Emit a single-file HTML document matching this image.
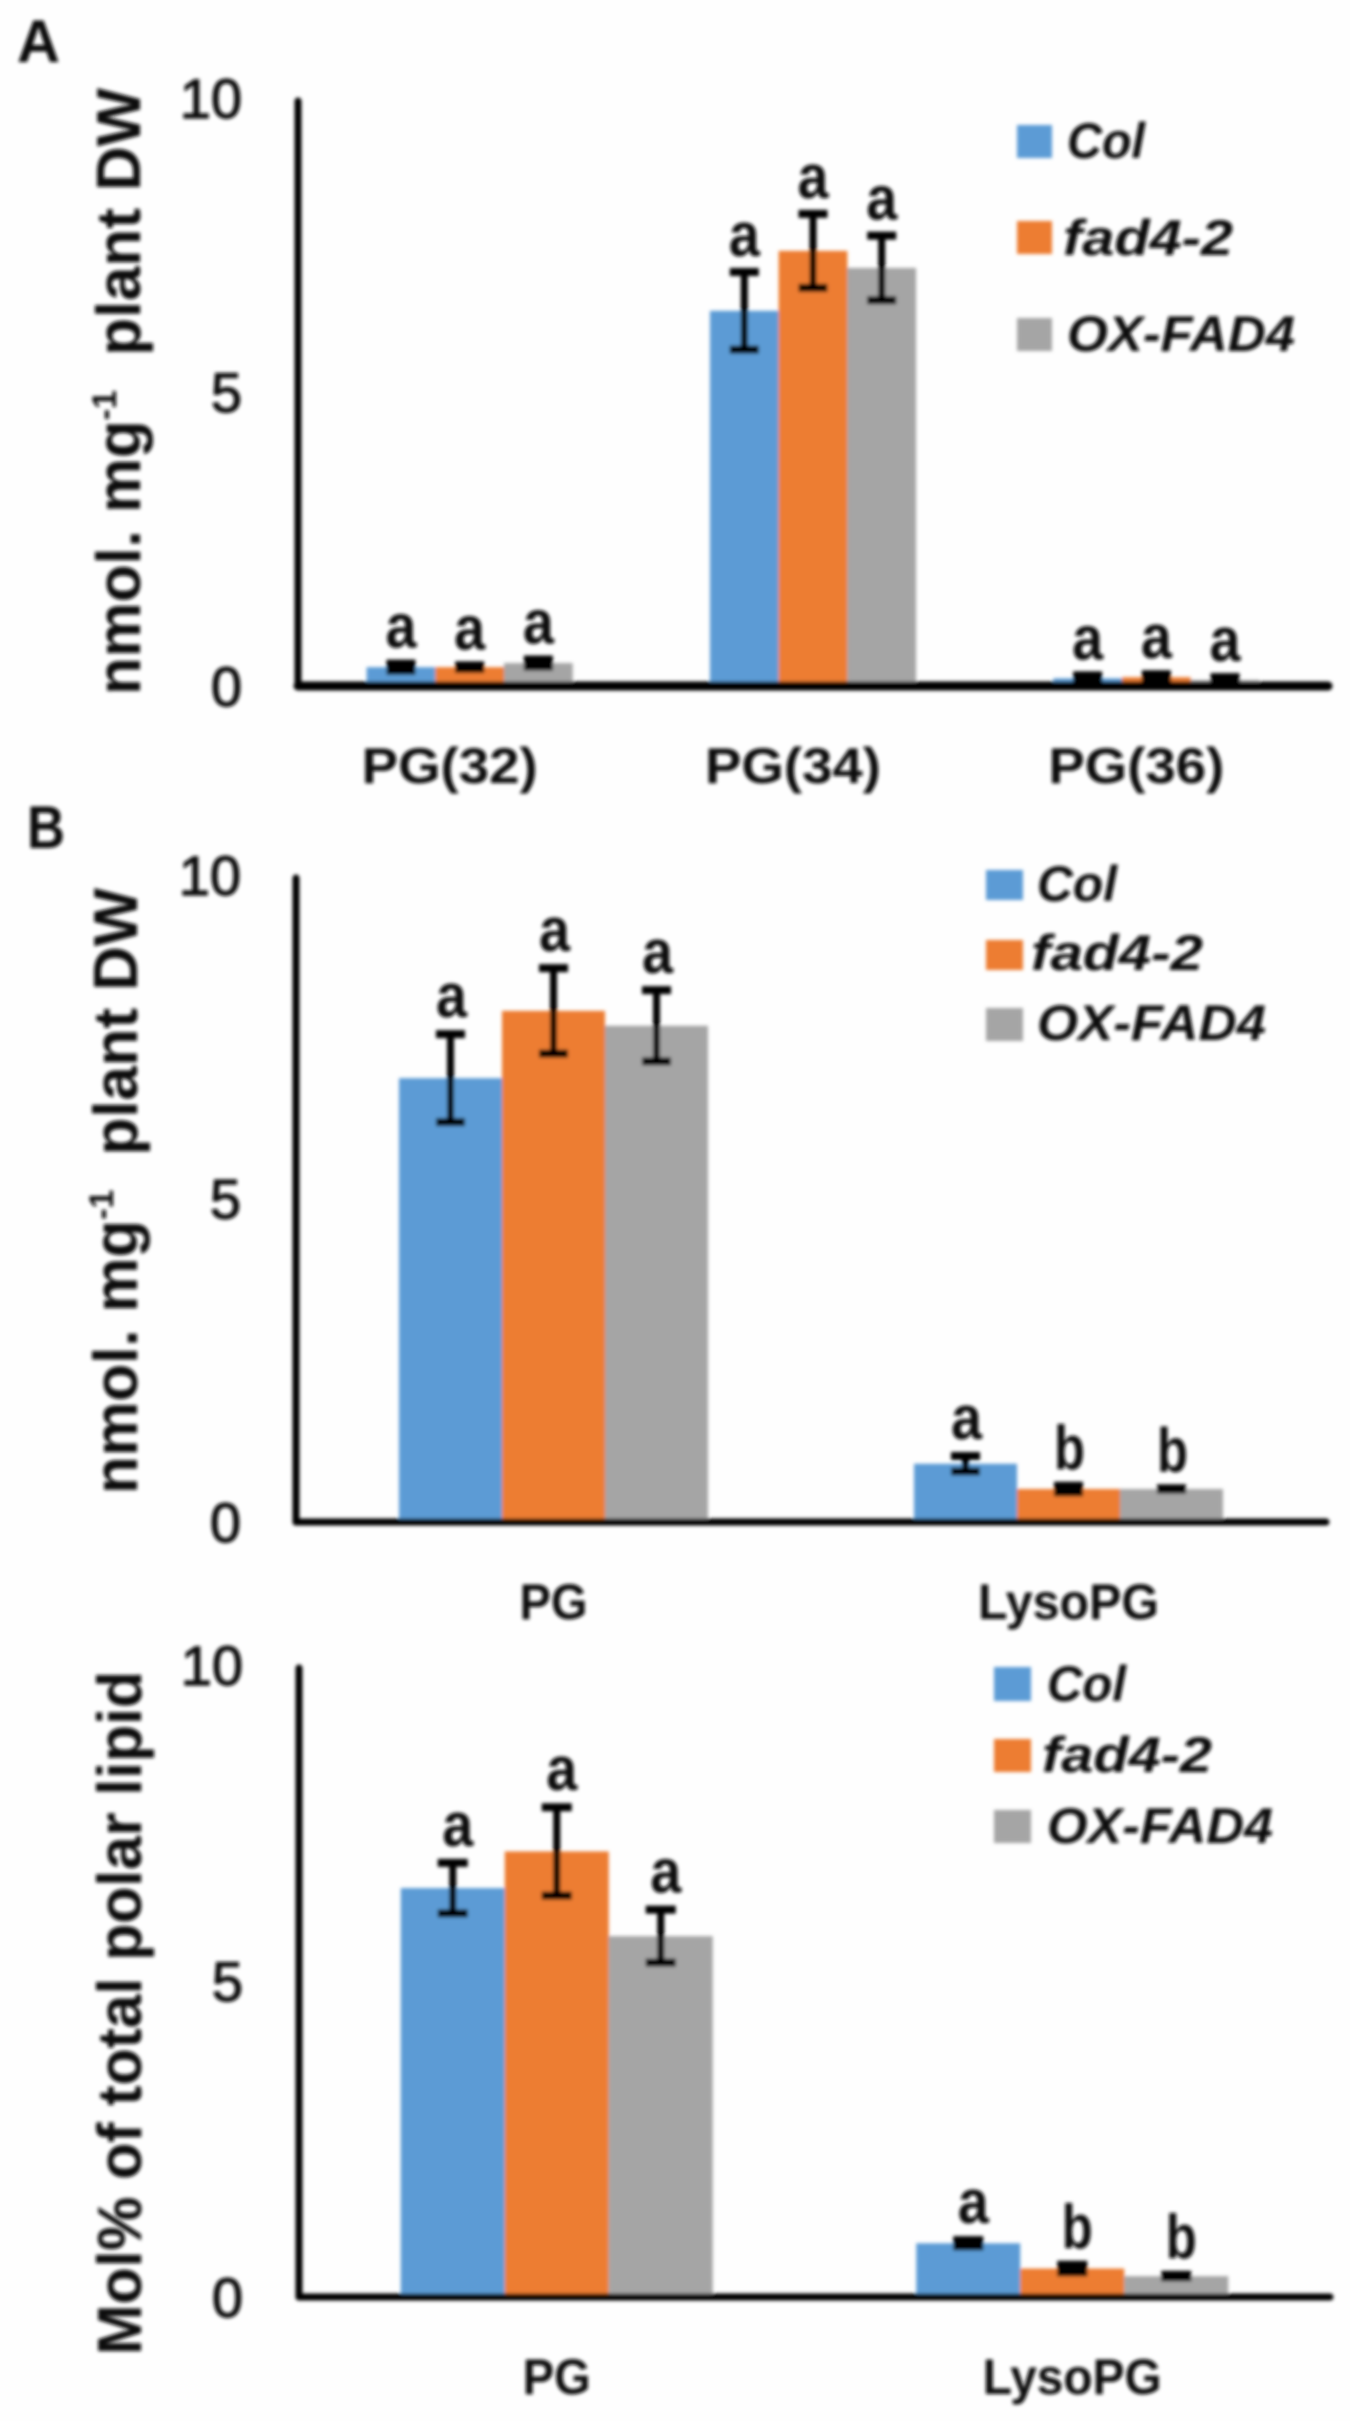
<!DOCTYPE html>
<html lang="en">
<head>
<meta charset="utf-8">
<title>PG and LysoPG content in Col, fad4-2 and OX-FAD4</title>
<style>
  html, body { margin: 0; padding: 0; background: #fefefe; }
  svg { display: block; }
  text { font-family: "Liberation Sans", sans-serif; fill: #111; }
  .panel-letter { font-size: 60px; font-weight: bold; }
  .y-title { font-size: 62px; font-weight: bold; }
  .y-title tspan.sup { font-size: 34px; }
  .tick { font-size: 56px; stroke: #111; stroke-width: 1.2px; }
  .cat { font-size: 50px; font-weight: bold; }
  .sig { font-size: 62px; font-weight: bold; }
  .leg { font-size: 50px; font-weight: bold; font-style: italic; }
</style>
</head>
<body>
<svg id="figure" xmlns="http://www.w3.org/2000/svg" width="1350" height="2421" viewBox="0 0 1350 2421">
  <defs>
    <filter id="soft" filterUnits="userSpaceOnUse" x="0" y="0" width="1350" height="2421">
      <feGaussianBlur stdDeviation="1.8"/>
    </filter>
  </defs>
  <rect x="0" y="0" width="1350" height="2421" fill="#fefefe"/>
  <g id="art" filter="url(#soft)">

    <text class="panel-letter" x="17" y="62" textLength="43" lengthAdjust="spacingAndGlyphs">A</text>
    <text class="panel-letter" x="27" y="848" textLength="38" lengthAdjust="spacingAndGlyphs">B</text>

    <text class="y-title" transform="translate(140,695) rotate(-90)" x="0" y="0" textLength="607" lengthAdjust="spacingAndGlyphs" xml:space="preserve">nmol. mg<tspan class="sup" dy="-24">-1</tspan><tspan dy="24">  plant DW</tspan></text>
    <text class="y-title" transform="translate(137,1494) rotate(-90)" x="0" y="0" textLength="606" lengthAdjust="spacingAndGlyphs" xml:space="preserve">nmol. mg<tspan class="sup" dy="-24">-1</tspan><tspan dy="24">  plant DW</tspan></text>
    <text class="y-title" transform="translate(141,2355) rotate(-90)" x="0" y="0" textLength="684" lengthAdjust="spacingAndGlyphs" xml:space="preserve">Mol% of total polar lipid</text>

    <g>
      <rect x="1017" y="125" width="35" height="33" fill="#5B9BD5"/>
      <text class="leg" x="1067" y="158" textLength="78" lengthAdjust="spacingAndGlyphs">Col</text>
      <rect x="1017" y="221" width="35" height="33" fill="#ED7D31"/>
      <text class="leg" x="1063" y="255" textLength="170" lengthAdjust="spacingAndGlyphs">fad4-2</text>
      <rect x="1017" y="318" width="35" height="33" fill="#A5A5A5"/>
      <text class="leg" x="1067" y="351" textLength="228" lengthAdjust="spacingAndGlyphs">OX-FAD4</text>
    </g>

    <g>
      <rect x="986" y="870" width="37" height="30" fill="#5B9BD5"/>
      <text class="leg" x="1037" y="901" textLength="80" lengthAdjust="spacingAndGlyphs">Col</text>
      <rect x="986" y="940" width="37" height="30" fill="#ED7D31"/>
      <text class="leg" x="1031" y="970" textLength="172" lengthAdjust="spacingAndGlyphs">fad4-2</text>
      <rect x="986" y="1008" width="37" height="33" fill="#A5A5A5"/>
      <text class="leg" x="1037" y="1040" textLength="229" lengthAdjust="spacingAndGlyphs">OX-FAD4</text>
    </g>

    <g>
      <rect x="994" y="1667" width="37" height="34" fill="#5B9BD5"/>
      <text class="leg" x="1047" y="1701" textLength="79" lengthAdjust="spacingAndGlyphs">Col</text>
      <rect x="994" y="1739" width="37" height="33" fill="#ED7D31"/>
      <text class="leg" x="1042" y="1772" textLength="170" lengthAdjust="spacingAndGlyphs">fad4-2</text>
      <rect x="994" y="1810" width="37" height="33" fill="#A5A5A5"/>
      <text class="leg" x="1047" y="1843" textLength="226" lengthAdjust="spacingAndGlyphs">OX-FAD4</text>
    </g>
  </g>
</svg>

<script>
// ---- chart data ----
const seriesNames = ['Col', 'fad4-2', 'OX-FAD4'];
const tickLabels = [0, 5, 10];

const categoriesA = ['PG(32)', 'PG(34)', 'PG(36)'];
const colValuesA = [0.32, 6.38, 0.13];
const fadValuesA = [0.32, 7.40, 0.15];
const oxValuesA = [0.39, 7.11, 0.10];
const colErrorsA = [0.06, 0.66, 0.05];
const fadErrorsA = [0.03, 0.63, 0.05];
const oxErrorsA = [0.06, 0.55, 0.05];
const colLettersA = ['a', 'a', 'a'];
const fadLettersA = ['a', 'a', 'a'];
const oxLettersA = ['a', 'a', 'a'];

const categoriesB = ['PG', 'LysoPG'];
const colValuesB = [6.86, 0.90];
const fadValuesB = [7.90, 0.51];
const oxValuesB = [7.67, 0.51];
const colErrorsB = [0.68, 0.12];
const fadErrorsB = [0.66, 0.05];
const oxErrorsB = [0.55, 0.01];
const colLettersB = ['a', 'a'];
const fadLettersB = ['a', 'b'];
const oxLettersB = ['a', 'b'];

const categoriesC = ['PG', 'LysoPG'];
const colValuesC = [6.47, 0.85];
const fadValuesC = [7.05, 0.45];
const oxValuesC = [5.71, 0.33];
const colErrorsC = [0.40, 0.05];
const fadErrorsC = [0.70, 0.06];
const oxErrorsC = [0.42, 0.02];
const colLettersC = ['a', 'a'];
const fadLettersC = ['a', 'b'];
const oxLettersC = ['a', 'b'];

// ---- drawing ----
const SVG_NS = 'http://www.w3.org/2000/svg';
const seriesColors = ['#5B9BD5', '#ED7D31', '#A5A5A5'];
const art = document.getElementById('art');

function make(tag, attrs, parent) {
  const el = document.createElementNS(SVG_NS, tag);
  Object.keys(attrs).forEach(function (k) { el.setAttribute(k, attrs[k]); });
  parent.appendChild(el);
  return el;
}

function drawPanel(p) {
  const group = make('g', {}, art);
  
  

  const xStep = (p.xEnd - p.x0) / p.categories.length;
  const xCenter = function (i) { return p.x0 + xStep * (i + 0.5); };
  const yScale = function (v) { return p.y0 - (p.y0 - p.y10) * (v / 10); };

  p.categories.forEach(function (cat, c) {
    const catLabel = make('text', {
      class: 'cat', x: xCenter(c) + p.catDx - p.catLengths[c] / 2, y: p.catY,
      textLength: p.catLengths[c], lengthAdjust: 'spacingAndGlyphs'
    }, group);
    catLabel.textContent = cat;
    
    
  });

  p.values.forEach(function (seriesValues, s) {
    seriesValues.forEach(function (v, c) {
      const cx = xCenter(c) + (s - 1) * p.barW;
      const bar = make('rect', {
        x: cx - p.barW / 2, y: yScale(v), width: p.barW,
        height: p.y0 - yScale(v), fill: seriesColors[s]
      }, group);
      
      
    });
  });

  p.values.forEach(function (seriesValues, s) {
    seriesValues.forEach(function (v, c) {
      const cx = xCenter(c) + (s - 1) * p.barW;
      const e = p.errors[s][c];
      const eTop = yScale(v + e);
      const eBot = yScale(v - e);
      const errorBar = make('path', {
        d: 'M' + cx + ' ' + eTop + 'V' + eBot,
        fill: 'none', stroke: '#000', 'stroke-width': 7
      }, group);
      
      

      const errorCaps = make('path', {
        d: 'M' + (cx - p.capW / 2) + ' ' + eTop + 'H' + (cx + p.capW / 2) +
           'M' + (cx - p.capW / 2) + ' ' + eBot + 'H' + (cx + p.capW / 2),
        fill: 'none', stroke: '#000', 'stroke-width': 8
      }, group);
      
      

      const sig = make('text', {
        class: 'sig', x: cx + p.letterDx - 15.5, y: eTop - p.letterGap,
        textLength: 31, lengthAdjust: 'spacingAndGlyphs'
      }, group);
      sig.textContent = p.letters[s][c];
      
      
    });
  });

  tickLabels.forEach(function (t) {
    const tick = make('text', {
      class: 'tick', x: p.tickRight, y: yScale(t) + 20, 'text-anchor': 'end'
    }, group);
    tick.textContent = t;
    
    
  });

  const yAxis = make('line', {
    x1: p.x0, x2: p.x0, y1: p.y10 + 3, y2: p.y0, stroke: '#000', 'stroke-width': 7, 'stroke-linecap': 'round'
  }, group);
  
  

  const xAxis = make('line', {
    x1: p.x0, x2: p.xEnd, y1: p.y0, y2: p.y0, stroke: '#000', 'stroke-width': p.xAxisW, 'stroke-linecap': 'round'
  }, group);
  
  
}

drawPanel({
  id: 'a', x0: 298, xEnd: 1328, y0: 686, y10: 98, barW: 68.7, capW: 29, xAxisW: 9,
  catY: 783, catDx: -20, catLengths: [176, 176, 176], tickRight: 242, letterGap: 16, letterDx: 0,
  categories: categoriesA,
  values: [colValuesA, fadValuesA, oxValuesA],
  errors: [colErrorsA, fadErrorsA, oxErrorsA],
  letters: [colLettersA, fadLettersA, oxLettersA]
});
drawPanel({
  id: 'b', x0: 296, xEnd: 1326, y0: 1522, y10: 875, barW: 103, capW: 29, xAxisW: 7,
  catY: 1619, catDx: 0, catLengths: [68, 181], tickRight: 241, letterGap: 17, letterDx: 1,
  categories: categoriesB,
  values: [colValuesB, fadValuesB, oxValuesB],
  errors: [colErrorsB, fadErrorsB, oxErrorsB],
  letters: [colLettersB, fadLettersB, oxLettersB]
});
drawPanel({
  id: 'c', x0: 299, xEnd: 1330, y0: 2297, y10: 1665, barW: 104, capW: 30, xAxisW: 7,
  catY: 2394, catDx: 0, catLengths: [68, 179], tickRight: 243, letterGap: 17, letterDx: 5,
  categories: categoriesC,
  values: [colValuesC, fadValuesC, oxValuesC],
  errors: [colErrorsC, fadErrorsC, oxErrorsC],
  letters: [colLettersC, fadLettersC, oxLettersC]
});
</script>
</body>
</html>
